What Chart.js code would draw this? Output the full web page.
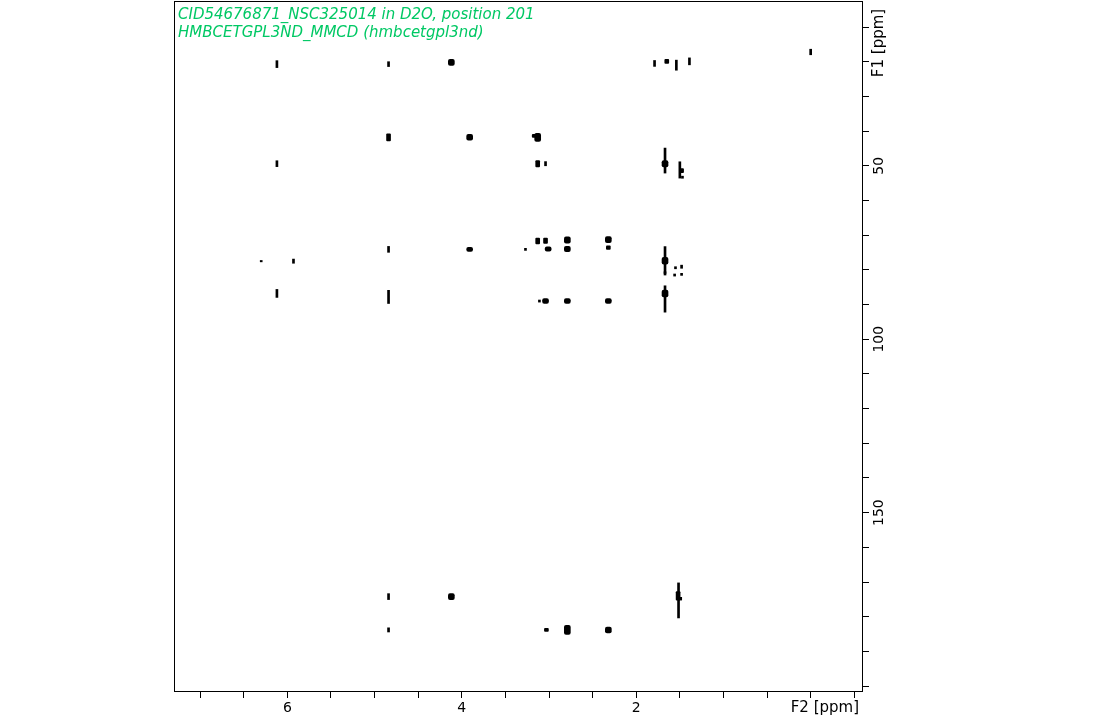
<!DOCTYPE html>
<html>
<head>
<meta charset="utf-8">
<script src="https://cdn.jsdelivr.net/npm/chart.js@4"></script>
<style>
  html, body { margin: 0; padding: 0; background: #fff; }
  #wrap { width: 1110px; height: 720px; }
</style>
</head>
<body>
<div id="wrap"><canvas id="hmbc" width="1110" height="720"></canvas></div>
<script>
"use strict";

// HMBC cross peaks: 1H shift (F2), 13C shift (F1), contour extent along F1 (ppm), contour level
const f2Shift = [
  6.12, 4.84, 4.12, 1.79, 1.65, 1.54, 1.39, 0.00,
  4.84, 3.91, 3.13, 3.17,
  6.12, 3.13, 3.04, 1.67, 1.67, 1.50, 1.48, 1.47,
  4.84, 3.91, 3.27, 3.13, 3.04, 3.01, 2.79, 2.79, 2.32, 2.32,
  1.67, 1.67, 1.55, 1.48, 1.56, 1.48, 1.67, 6.30, 5.93,
  6.12, 4.84, 3.11, 3.04, 2.79, 2.32, 1.67, 1.67,
  4.84, 4.12, 1.52, 1.515, 1.49,
  4.84, 3.03, 2.79, 2.32
];
const f1Shift = [
  20.7, 20.7, 20.2, 20.5, 19.9, 21.0, 19.9, 17.2,
  41.8, 41.8, 41.8, 41.4,
  49.4, 49.4, 49.4, 49.4, 48.5, 51.2, 51.4, 53.3,
  74.1, 74.1, 74.1, 71.7, 71.6, 74.0, 71.4, 74.0, 71.3, 73.6,
  77.4, 77.4, 79.4, 79.1, 81.5, 81.3, 80.8, 77.5, 77.5,
  86.8, 87.8, 89.0, 89.0, 89.0, 89.0, 86.8, 88.4,
  174.2, 174.2, 174.0, 175.3, 174.8,
  183.8, 183.8, 183.8, 183.8
];
const f1Extent = [
  2.0, 1.4, 1.8, 1.7, 1.2, 2.9, 2.0, 1.6,
  2.0, 1.7, 2.3, 0.9,
  1.7, 1.8, 1.2, 1.8, 7.2, 4.7, 1.2, 0.6,
  1.7, 1.2, 0.6, 1.7, 1.5, 1.2, 1.8, 1.5, 1.8, 1.0,
  2.0, 8.2, 0.6, 0.9, 0.6, 0.6, 0.5, 0.4, 1.2,
  2.3, 3.8, 0.6, 1.4, 1.4, 1.4, 2.0, 7.6,
  1.7, 1.7, 2.5, 10.1, 0.8,
  1.2, 0.9, 2.6, 1.7
];
const contourLevel = [
  1, 1, 3, 1, 2, 1, 1, 1,
  2, 3, 3, 2,
  1, 2, 1, 3, 1, 1, 2, 1,
  1, 3, 1, 2, 2, 3, 3, 3, 3, 2,
  3, 1, 1, 1, 1, 1, 1, 1, 1,
  1, 1, 1, 3, 3, 3, 3, 1,
  1, 3, 2, 1, 1,
  1, 2, 3, 3
];

const f2Ticks = [6, 4, 2];
const f1Ticks = [50, 100, 150];
const titleLines = [
  "CID54676871_NSC325014 in D2O, position 201",
  "HMBCETGPL3ND_MMCD (hmbcetgpl3nd)"
];

Chart.defaults.font.family = "'DejaVu Sans', sans-serif";
Chart.defaults.color = "#000";

// one bar dataset per contour level, each peak is a floating bar along F1
const levelWidths = { 1: 2, 2: 4, 3: 6 };
const datasets = [1, 2, 3].map((lvl) => {
  const points = [];
  f2Shift.forEach((x, i) => {
    if (contourLevel[i] !== lvl) return;
    const half = f1Extent[i] / 2;
    points.push({ x: x, y: [f1Shift[i] - half, f1Shift[i] + half] });
  });
  return {
    label: "level " + lvl,
    data: points,
    backgroundColor: "#000",
    borderWidth: 0,
    borderRadius: lvl - 1,
    borderSkipped: false,
    barThickness: levelWidths[lvl],
    grouped: false
  };
});

const isLabelTick = (value, list) =>
  list.some((t) => Math.abs(t - value) < 1e-6);

// no extra room for first/last tick labels, keeps the box fixed
const noScalePadding = (scale) => {
  scale.paddingTop = 0;
  scale.paddingBottom = 0;
  scale.paddingLeft = 0;
  scale.paddingRight = 0;
};

const frameAndLabels = {
  id: "frameAndLabels",
  afterDraw(chart) {
    const { ctx, chartArea: a } = chart;
    ctx.save();
    ctx.strokeStyle = "#000";
    ctx.lineWidth = 1;
    ctx.strokeRect(a.left + 0.5, a.top + 0.5, a.right - a.left - 1, a.bottom - a.top - 1);

    // spectrum title
    ctx.fillStyle = "#00c864";
    ctx.font = "italic 15px 'DejaVu Sans'";
    ctx.textBaseline = "middle";
    ctx.textAlign = "left";
    titleLines.forEach((line, i) => ctx.fillText(line, a.left + 4, 15 + i * 18.5));

    // axis names
    ctx.fillStyle = "#000";
    ctx.font = "15px 'DejaVu Sans'";
    ctx.textAlign = "right";
    ctx.fillText("F2 [ppm]", a.right - 4, a.bottom + 16);
    ctx.translate(a.right + 16, 43);
    ctx.rotate(-Math.PI / 2);
    ctx.textAlign = "center";
    ctx.fillText("F1 [ppm]", 0, 0);
    ctx.restore();
  }
};

new Chart(document.getElementById("hmbc"), {
  type: "bar",
  data: { datasets: datasets },
  plugins: [frameAndLabels],
  options: {
    responsive: false,
    devicePixelRatio: 1,
    animation: false,
    layout: { padding: { left: 174, top: 1, right: 217, bottom: 0 } },
    plugins: {
      legend: { display: false },
      tooltip: { enabled: false },
      title: { display: false }
    },
    scales: {
      x: {
        type: "linear",
        reverse: true,
        min: -0.6,
        max: 7.3,
        offset: false,
        border: { display: false },
        grid: {
          offset: false,
          drawOnChartArea: false,
          drawTicks: true,
          tickLength: 6,
          tickColor: "#000"
        },
        ticks: {
          stepSize: 0.5,
          includeBounds: false,
          autoSkip: false,
          maxRotation: 0,
          minRotation: 0,
          padding: 2,
          font: { size: 14 },
          callback: (value) => (isLabelTick(value, f2Ticks) ? String(value) : "")
        },
        afterFit: (scale) => {
          scale.height = 28;
          noScalePadding(scale);
        }
      },
      y: {
        type: "linear",
        position: "right",
        reverse: true,
        beginAtZero: false,
        min: 2.5,
        max: 201.7,
        border: { display: false },
        grid: {
          drawOnChartArea: false,
          drawTicks: true,
          tickLength: 6,
          tickColor: "#000"
        },
        ticks: {
          stepSize: 10,
          includeBounds: false,
          autoSkip: false,
          minRotation: 90,
          maxRotation: 90,
          crossAlign: "center",
          padding: -3,
          font: { size: 14 },
          callback: (value) => (isLabelTick(value, f1Ticks) ? String(value) : "")
        },
        afterFit: (scale) => {
          scale.width = 30;
          noScalePadding(scale);
        }
      }
    }
  }
});
</script>
</body>
</html>
